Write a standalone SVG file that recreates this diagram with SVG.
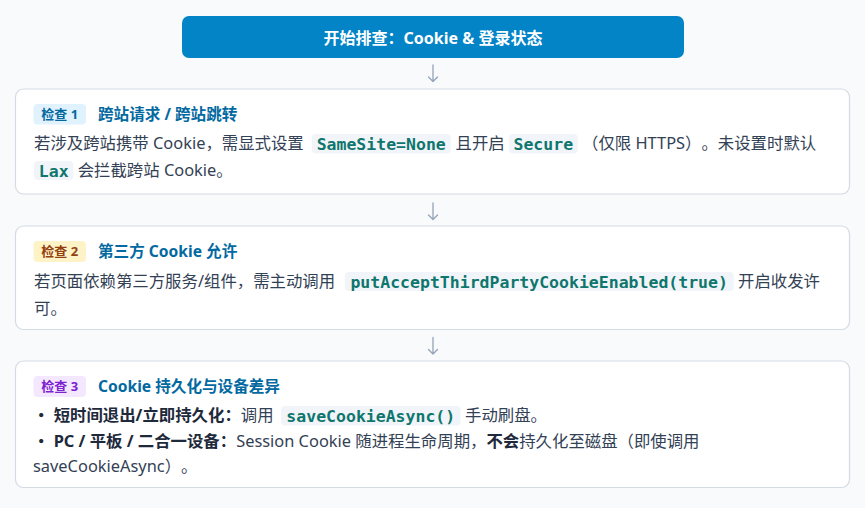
<svg xmlns="http://www.w3.org/2000/svg" width="865" height="508" viewBox="0 0 865 508">
<defs>
<style>
text{text-spacing-trim:space-all;}
.t{font-family:"Noto Sans","Noto Sans CJK SC",sans-serif;}
.cjk{font-family:"Noto Sans CJK SC",sans-serif;}
.body{font-size:16.4px;fill:#334155;}
.b{font-weight:700;fill:#1e293b;}
.title{font-size:15.6px;font-weight:700;fill:#0369a1;}
.badge{font-family:"Noto Sans","Noto Sans CJK SC",sans-serif;font-size:13px;font-weight:700;text-anchor:middle;}
.card{fill:#ffffff;stroke:#d3dbe5;stroke-width:1.2;}
.code{fill:#f1f5f9;}
.mono{font-family:"DejaVu Sans Mono","Liberation Mono",monospace;font-size:16.5px;font-weight:700;fill:#0f766e;text-anchor:middle;}
.arrow{stroke:#94a3b8;stroke-width:1.3;fill:none;stroke-linecap:round;stroke-linejoin:round;}
</style>
</defs>
<rect x="0" y="0" width="865" height="508" fill="#f8fafc"/>

<g id="start">
<rect x="182" y="16" width="502" height="42" rx="7" fill="#0284c7"/>
<text class="t" x="433" y="43.5" text-anchor="middle" font-size="16" font-weight="700" fill="#ffffff">开始排查<tspan class="cjk">：</tspan>Cookie &amp; 登录状态</text>
</g>

<g id="connectors">
<path class="arrow" d="M433 65 V81.5 M428.5 77 L433 81.5 L437.5 77"/>
<path class="arrow" d="M433 203 V219.5 M428.5 215 L433 219.5 L437.5 215"/>
<path class="arrow" d="M433 337.5 V354 M428.5 349.5 L433 354 L437.5 349.5"/>
</g>

<g id="check1">
<rect class="card" x="15.5" y="89" width="834" height="105" rx="8"/>
<rect x="33.5" y="104" width="52.5" height="20.5" rx="4" fill="#e0f2fe"/>
<text class="badge" x="59.7" y="119" fill="#0369a1">检查 1</text>
<text class="t title" x="98" y="120">跨站请求 / 跨站跳转</text>
<text class="t body" x="34" y="149">若涉及跨站携带 Cookie<tspan class="cjk">，</tspan>需显式设置</text>
<rect class="code" x="311.7" y="134" width="139" height="19.5" rx="4"/>
<text class="mono" x="381.2" y="149.5">SameSite=None</text>
<text class="t body" x="455.5" y="149">且开启</text>
<rect class="code" x="509" y="134" width="68.7" height="19.5" rx="4"/>
<text class="mono" x="543.3" y="149.5">Secure</text>
<text class="t body" x="582" y="149"><tspan class="cjk">（</tspan>仅限 HTTPS<tspan class="cjk">）。</tspan>未设置时默认</text>
<rect class="code" x="34" y="161" width="39.3" height="19" rx="4"/>
<text class="mono" x="53.7" y="176.5">Lax</text>
<text class="t body" x="77.7" y="176">会拦截跨站 Cookie<tspan class="cjk">。</tspan></text>
</g>

<g id="check2">
<rect class="card" x="15.5" y="226" width="834" height="103.5" rx="8"/>
<rect x="33.5" y="241" width="52.5" height="21" rx="4" fill="#fef3c7"/>
<text class="badge" x="59.7" y="256" fill="#92400e">检查 2</text>
<text class="t title" x="98" y="257">第三方 Cookie 允许</text>
<text class="t body" x="34" y="287">若页面依赖第三方服务/组件<tspan class="cjk">，</tspan>需主动调用</text>
<rect class="code" x="344.7" y="272" width="389" height="19" rx="4"/>
<text class="mono" x="539.2" y="287.5">putAcceptThirdPartyCookieEnabled(true)</text>
<text class="t body" x="738" y="287">开启收发许</text>
<text class="t body" x="34" y="314">可<tspan class="cjk">。</tspan></text>
</g>

<g id="check3">
<rect class="card" x="15.5" y="361" width="834" height="126.5" rx="8"/>
<rect x="33.5" y="376" width="52.5" height="21" rx="4" fill="#f3e8ff"/>
<text class="badge" x="59.7" y="391" fill="#7e22ce">检查 3</text>
<text class="t title" x="98" y="392">Cookie 持久化与设备差异</text>
<text class="t body" x="33" y="421"><tspan class="b"><tspan class="cjk">・</tspan> 短时间退出/立即持久化<tspan class="cjk">：</tspan></tspan>调用</text>
<rect class="code" x="281" y="406" width="179.6" height="19.5" rx="4"/>
<text class="mono" x="370.8" y="422">saveCookieAsync()</text>
<text class="t body" x="465" y="421">手动刷盘<tspan class="cjk">。</tspan></text>
<text class="t body" x="33" y="447"><tspan class="b"><tspan class="cjk">・</tspan> PC / 平板 / 二合一设备<tspan class="cjk">：</tspan></tspan>Session Cookie 随进程生命周期<tspan class="cjk">，</tspan><tspan class="b">不会</tspan>持久化至磁盘<tspan class="cjk">（</tspan>即使调用</text>
<text class="t body" x="33" y="472">saveCookieAsync<tspan class="cjk">）。</tspan></text>
</g>
</svg>
